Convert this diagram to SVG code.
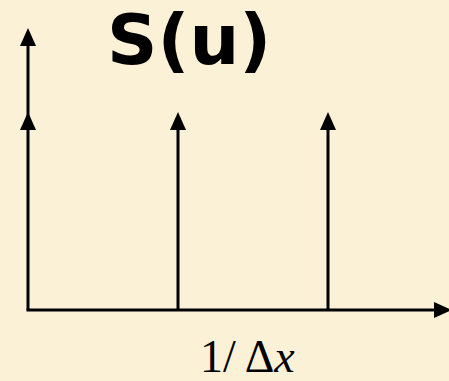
<svg xmlns="http://www.w3.org/2000/svg" width="449" height="381" viewBox="0 0 449 381">
<style>
.ln{stroke:#000;stroke-width:3;fill:none}
.ah{fill:#000}
.t1{font-family:"DejaVu Sans",Verdana,sans-serif;font-weight:bold;font-size:70px;fill:#000}
.t2{font-family:"Liberation Serif","Times New Roman",serif;font-size:46px;fill:#000}
</style>
<rect width="449" height="381" fill="#FBF1D7"/>
<g id="connectors">
<line class="ln" x1="28" y1="310" x2="28" y2="40"/>
<polygon class="ah" points="28,28 20,46 36,46"/>
<polygon class="ah" points="28,112 20,130 36,130"/>
<line class="ln" x1="178" y1="310" x2="178" y2="124"/>
<polygon class="ah" points="178,112 170,130 186,130"/>
<line class="ln" x1="328" y1="310" x2="328" y2="124"/>
<polygon class="ah" points="328,112 320,130 336,130"/>
<line class="ln" x1="26.5" y1="310" x2="440" y2="310"/>
<polygon class="ah" points="452,310 434,302 434,318"/>
</g>
<g id="title"><text class="t1" x="107" y="64">S(u)</text></g>
<g id="label"><text class="t2" x="200" y="372">1/ Δ<tspan font-style="italic">x</tspan></text></g>
</svg>
